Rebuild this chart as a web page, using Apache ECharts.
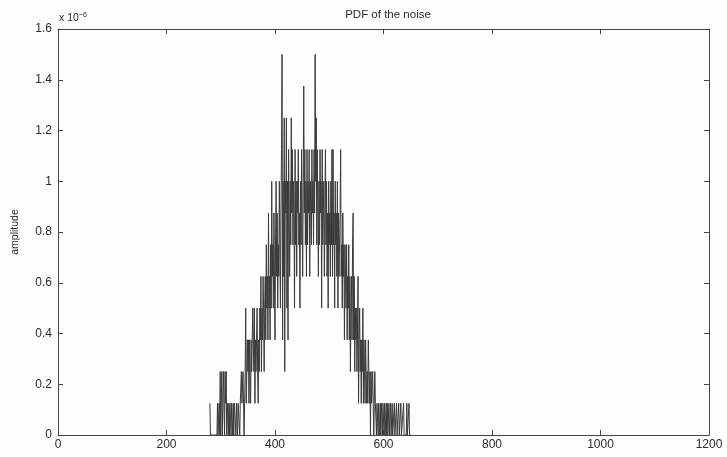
<!DOCTYPE html>
<html>
<head>
<meta charset="utf-8">
<script src="https://cdn.jsdelivr.net/npm/echarts@6/dist/echarts.min.js"></script>
<style>html,body{margin:0;padding:0;background:#fdfdfd}#c{width:727px;height:457px}</style>
</head>
<body>
<div id="c"></div>
<script>
// index of first sample shown (MATLAB sample index)
const pdfStartIndex = 280;
// PDF amplitude (x 1e-6) for consecutive sample indices starting at pdfStartIndex
const pdfValues = [
 .125,0,0,0,0,0,0,0,0,0,
 0,0,0,0,.125,0,0,.125,0,.25,
 0,.125,.25,0,.125,.25,.125,0,.25,.125,
 .25,0,.125,.125,0,.125,0,.125,.125,0,
 .125,.125,0,.125,0,.125,.125,.125,0,.125,
 .125,0,.125,.125,.125,0,.125,.125,.25,.125,
 .125,.25,.125,0,.125,.25,.5,.125,.25,.375,
 .25,.375,.125,.375,.25,.125,.375,.25,.25,.5,
 .375,.25,.5,.125,.375,.25,.375,.5,.25,.125,
 .375,.25,.5,.375,.625,.25,.5,.375,.625,.5,
 .25,.5,.625,.375,.75,.5,.625,.375,.875,.5,
 .625,.375,.75,.5,1,.625,.75,.5,.875,.625,
 .375,.75,1,.625,.875,.5,.75,.625,1,.75,
 .5,.875,1.125,1.5,.375,1,.625,1.25,.25,1,
 .875,1.25,.5,1,.375,1.125,.875,.625,1,.75,
 1.25,.875,1.125,.75,1,.875,.5,1.125,.75,1,
 .625,1,.875,1.125,.75,.875,.5,1,.75,1.125,
 .875,.625,1,1.375,.875,1.125,.75,1,.625,1.125,
 .75,1,.875,1.125,.625,1,.875,.75,1.125,.875,
 1,.75,1.125,.875,1.5,1,1.25,.75,1.125,.875,
 .625,1,.75,1.125,.875,1,.5,1.125,.75,.875,
 1,.625,.875,1.125,.75,1,.625,.875,.5,1,
 .75,.875,.625,1,.75,1.125,.625,1.125,.75,.875,
 .5,1,.75,.875,.625,1,.5,.875,.625,.75,
 .875,1.125,.625,.75,.5,.875,.625,.75,.375,.75,
 .625,.5,.75,.375,.625,.5,.75,.375,.625,.25,
 .5,.625,.375,.75,.875,.375,.625,.25,.5,.375,
 .5,.25,.375,.625,.125,.375,.5,.25,.375,.125,
 .375,.25,.5,.125,.375,.25,.125,.375,.25,.125,
 .25,.125,.375,.25,.125,.25,0,.25,.125,.125,
 .25,.125,0,.125,.25,.125,.125,0,.125,.125,
 0,.125,.125,0,.125,0,.125,.125,0,.125,
 .125,0,.125,0,0,.125,0,.125,0,0,
 .125,0,0,.125,0,0,.125,0,0,0,
 .125,0,0,0,.125,0,0,0,.125,0,
 0,0,.125,0,0,0,0,.125,0,0,
 0,0,0,.125,0,0,0,.125,0,0,
 0
];
const xTicks = [0, 200, 400, 600, 800, 1000, 1200];
const yTicks = [0, 0.2, 0.4, 0.6, 0.8, 1, 1.2, 1.4, 1.6];
const titleText = 'PDF of the noise';
const yLabelText = 'amplitude';

const seriesData = pdfValues.map((v, i) => [pdfStartIndex + i, v]);
const font = 'Liberation Sans, Arial, sans-serif';
const axisCol = '#444';
const txtCol = '#2a2a2a';

const chart = echarts.init(document.getElementById('c'), null, {renderer: 'canvas'});
const baseX = {
  type: 'value', min: xTicks[0], max: xTicks[xTicks.length - 1], interval: 200,
  axisLine: {show: true, onZero: false, lineStyle: {color: axisCol, width: 1}},
  axisTick: {show: true, inside: true, length: 5, lineStyle: {color: axisCol}},
  splitLine: {show: false}
};
const baseY = {
  type: 'value', min: yTicks[0], max: yTicks[yTicks.length - 1], interval: 0.2,
  axisLine: {show: true, onZero: false, lineStyle: {color: axisCol, width: 1}},
  axisTick: {show: true, inside: true, length: 5, lineStyle: {color: axisCol}},
  splitLine: {show: false}
};
chart.setOption({
  backgroundColor: '#fdfdfd',
  animation: false,
  title: {
    text: titleText, left: 383, top: 4, textAlign: 'center',
    textStyle: {fontFamily: font, fontSize: 11.5, fontWeight: 'normal', color: txtCol}
  },
  grid: {left: 58, right: 18, top: 29, bottom: 22},
  xAxis: [
    Object.assign({}, baseX, {position: 'bottom',
      axisLabel: {show: true, color: txtCol, fontFamily: font, fontSize: 12, margin: 4,
        formatter: v => String(v)}}),
    Object.assign({}, baseX, {position: 'top', axisLabel: {show: false}})
  ],
  yAxis: [
    Object.assign({}, baseY, {position: 'left',
      name: yLabelText, nameLocation: 'middle', nameGap: 37, nameRotate: 90,
      nameTextStyle: {fontFamily: font, fontSize: 10.5, color: txtCol},
      axisLabel: {show: true, color: txtCol, fontFamily: font, fontSize: 12, margin: 6,
        formatter: v => (Math.round(v * 10) / 10).toString()}}),
    Object.assign({}, baseY, {position: 'right', axisLabel: {show: false}})
  ],
  graphic: [{
    type: 'text', left: 59, top: 12,
    style: {
      rich: {
        a: {fontFamily: font, fontSize: 10.5, fill: txtCol},
        s: {fontFamily: font, fontSize: 7, fill: txtCol, verticalAlign: 'top', padding: [0, 0, 6, 0]}
      },
      text: '{a|x 10}{s|−6}'
    }
  }],
  series: [{
    type: 'line', xAxisIndex: 0, yAxisIndex: 0,
    data: seriesData, showSymbol: false, symbol: 'none',
    lineStyle: {color: '#3a3a3a', width: 1},
    clip: true
  }]
});
</script>
</body>
</html>
